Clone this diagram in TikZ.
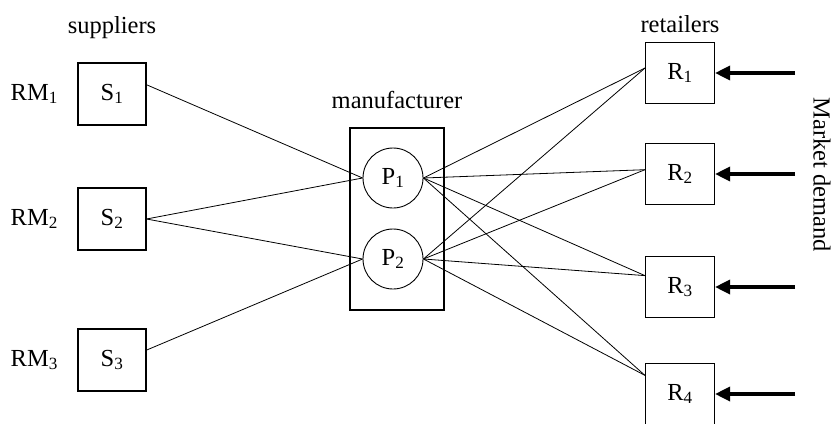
\documentclass[tikz,border=0pt]{standalone}
\usepackage{fontspec}
\setmainfont{Liberation Serif}
\usetikzlibrary{positioning, arrows.meta}

\begin{document}
\begin{tikzpicture}[x=1pt, y=-1pt,
		font=\fontsize{24.5}{28}\selectfont,
		unit/.style={draw, line width=1.1pt, minimum width=68pt, minimum height=62pt, inner sep=0pt},
		plant/.style={draw, circle, line width=0.9pt, minimum size=60pt, inner sep=0pt},
		link/.style={line width=0.8pt},
		demand/.style={line width=3.4pt, -{Triangle[length=15pt, width=14pt]}}]
			\useasboundingbox (0, 0) rectangle (835, 423);
			
			\node[unit] (s1) at (112, 94) {S\textsubscript{1}};
			\node[unit] (s2) at (112, 219) {S\textsubscript{2}};
			\node[unit] (s3) at (112, 360) {S\textsubscript{3}};
			\node[left=16pt of s1] (rm1) {RM\textsubscript{1}};
			\node[left=16pt of s2] (rm2) {RM\textsubscript{2}};
			\node[left=16pt of s3] (rm3) {RM\textsubscript{3}};
			\node[above=20pt of s1] (slabel) {suppliers};
			
			\node[draw, line width=1.1pt, minimum width=94pt, minimum height=182pt] (mfr) at (397, 219) {};
			\node[plant] (p1) at (393, 178) {P\textsubscript{1}};
			\node[plant] (p2) at (393, 259) {P\textsubscript{2}};
			\node[above=15pt of mfr] (mlabel) {manufacturer};
			
			\foreach \i/\y in {1/73, 2/174, 3/287, 4/394} {
				\node[unit, minimum width=69pt, minimum height=61pt] (r\i) at (680, \y) {R\textsubscript{\i}};
				\coordinate (d\i) at (795, \y);
				\draw[demand] (d\i) -- (r\i);
			}
			\node[above=6pt of r1] (rlabel) {retailers};
			\node[rotate=-90] (mdlabel) at (822, 175) {Market demand};
			
			\draw[link] (s1.15) -- (p1.west);
			\draw[link] (s2.east) -- (p1.west);
			\draw[link] (s2.east) -- (p2.west);
			\draw[link] (s3.16) -- (p2.west);
			
			\foreach \p in {p1, p2} {
				\draw[link] (\p.east) -- (r1.172);
				\draw[link] (\p.east) -- (r2.173);
				\draw[link] (\p.east) -- (r3.162);
				\draw[link] (\p.east) -- (r4.152);
			}
		\end{tikzpicture}
\end{document}
